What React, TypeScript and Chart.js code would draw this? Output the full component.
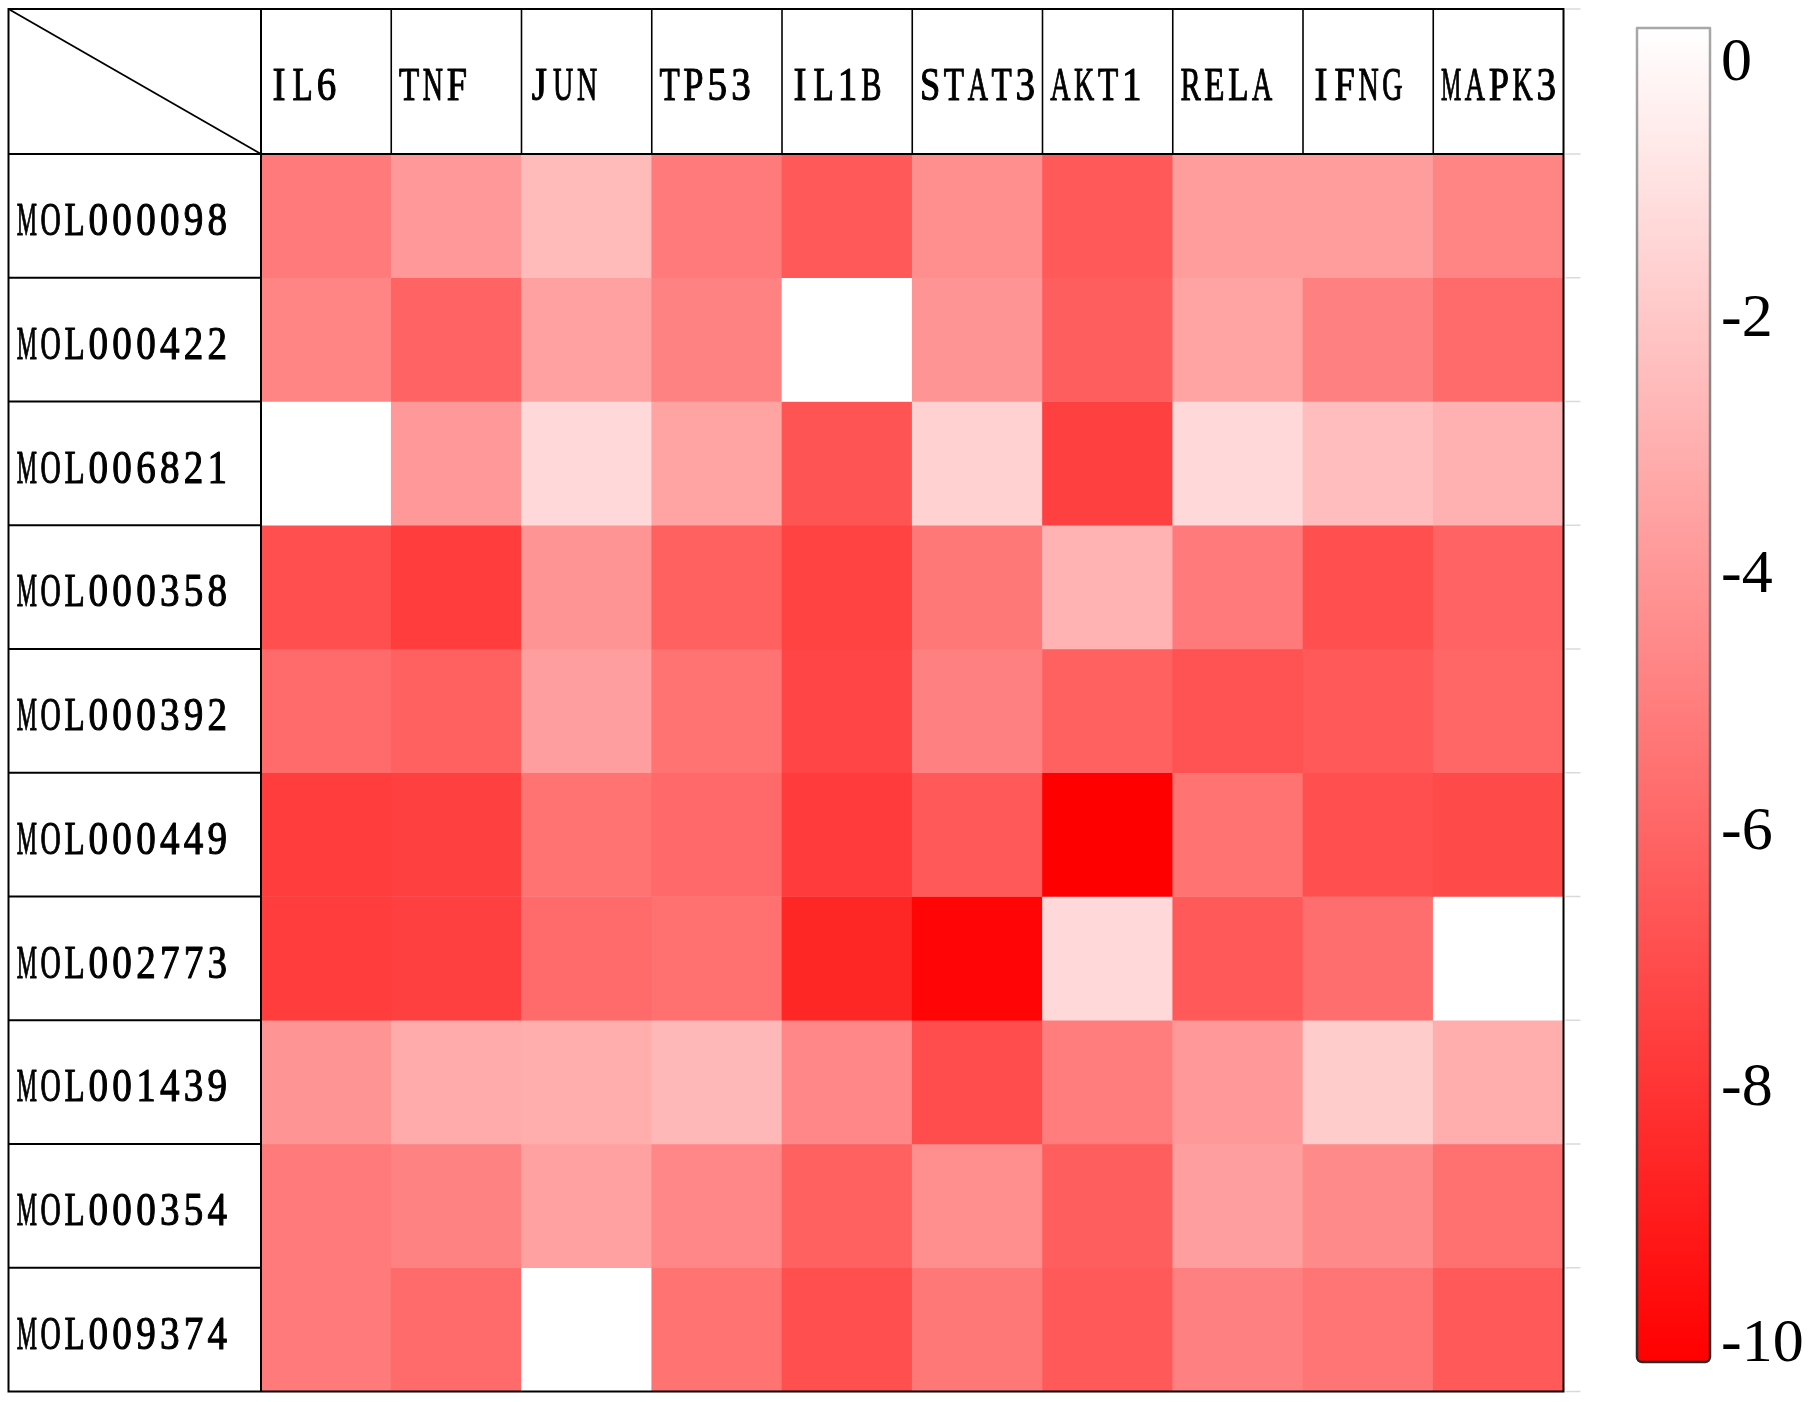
import { useEffect, useRef } from "react";
import { Chart, registerables } from "chart.js";

Chart.register(...registerables);

// ---------------- data ----------------
const genes = ["IL6", "TNF", "JUN", "TP53", "IL1B", "STAT3", "AKT1", "RELA", "IFNG", "MAPK3"];
const molecules = [
  "MOL000098", "MOL000422", "MOL006821", "MOL000358", "MOL000392",
  "MOL000449", "MOL002773", "MOL001439", "MOL000354", "MOL009374",
];

// docking scores per molecule (columns follow `genes`)
const mol000098 = [-5.2, -4.0, -2.7, -5.2, -6.5, -4.4, -6.5, -3.9, -3.9, -4.8];
const mol000422 = [-4.8, -6.1, -3.7, -4.9, 0, -4.2, -6.3, -3.6, -5.0, -5.8];
const mol006821 = [0, -4.0, -1.5, -3.6, -6.7, -1.8, -7.5, -1.5, -2.6, -3.1];
const mol000358 = [-6.9, -7.6, -4.2, -6.2, -7.4, -5.3, -3.0, -5.2, -6.9, -6.1];
const mol000392 = [-5.8, -6.2, -3.8, -5.5, -7.3, -5.0, -6.2, -6.8, -6.5, -6.0];
const mol000449 = [-7.6, -7.5, -5.5, -5.9, -7.7, -6.5, -10.0, -5.5, -6.9, -7.1];
const mol002773 = [-7.6, -7.5, -5.8, -5.6, -8.5, -9.8, -1.5, -6.5, -5.7, 0];
const mol001439 = [-4.2, -3.3, -3.2, -2.8, -4.7, -7.0, -5.1, -4.0, -2.0, -3.2];
const mol000354 = [-5.2, -4.9, -3.7, -4.7, -6.2, -4.4, -6.3, -3.8, -4.6, -5.6];
const mol009374 = [-5.2, -5.8, 0, -5.5, -6.9, -5.3, -6.5, -5.0, -5.4, -6.5];

const scoreRows = [
  mol000098, mol000422, mol006821, mol000358, mol000392,
  mol000449, mol002773, mol001439, mol000354, mol009374,
];

const colorbarTicks = [0, -2, -4, -6, -8, -10];
const colorMax = 0;
const colorMin = -10;

// ---------------- layout / style ----------------
const W = 1816;
const H = 1402;
const TABLE_LEFT = 8.5;
const TABLE_TOP = 9;
const HEAT_LEFT = 261;
const HEAT_TOP = 154;
const HEAT_RIGHT = 1563.5;
const HEAT_BOTTOM = 1391.5;
const LABEL_FONT = 46;
const LABEL_ADV = 23.8;
const CB_LEFT = 1637;
const CB_RIGHT = 1710;
const CB_TOP = 28;
const CB_BOTTOM = 1362;
const CB_LABEL_TOP = 59;
const CB_LABEL_BOTTOM = 1340;
const SERIF = '"Liberation Serif", "Times New Roman", serif';

function scoreColor(v: number): string {
  const t = Math.max(0, Math.min(1, (v - colorMax) / (colorMin - colorMax)));
  const g = Math.round(255 * (1 - t));
  return `rgb(255,${g},${g})`;
}

function drawMono(ctx: CanvasRenderingContext2D, text: string, x: number, baseline: number) {
  ctx.font = `${LABEL_FONT}px ${SERIF}`;
  ctx.textAlign = "center";
  ctx.textBaseline = "alphabetic";
  ctx.fillStyle = "#000";
  ctx.strokeStyle = "#000";
  ctx.lineWidth = 1.1;
  ctx.lineJoin = "round";
  for (let i = 0; i < text.length; i++) {
    const ch = text[i];
    const w = ctx.measureText(ch).width || 1;
    const sx = Math.min(0.85, (LABEL_FONT * 0.44) / w);
    ctx.save();
    ctx.translate(x + i * LABEL_ADV + LABEL_ADV / 2, baseline);
    ctx.scale(sx, 1);
    ctx.fillText(ch, 0, 0);
    ctx.strokeText(ch, 0, 0);
    ctx.restore();
  }
}

const tablePlugin = {
  id: "tableFrame",
  afterDraw(chart: any) {
    const { ctx, chartArea } = chart;
    const xs = chart.scales.x;
    const ys = chart.scales.y;
    const L = TABLE_LEFT;
    const T = TABLE_TOP;
    const R = chartArea.right;
    const B = chartArea.bottom;
    const colW = (xs.right - xs.left) / genes.length;
    const line = (x1: number, y1: number, x2: number, y2: number) => {
      ctx.beginPath();
      ctx.moveTo(x1, y1);
      ctx.lineTo(x2, y2);
      ctx.stroke();
    };
    ctx.save();

    // grey tick marks to the right of the table
    ctx.strokeStyle = "#dadada";
    ctx.lineWidth = 1.5;
    line(R + 2, T, R + 17, T);
    for (let i = 0; i <= molecules.length; i++) {
      const y = ys.getPixelForValue(i);
      line(R + 2, y, R + 17, y);
    }

    ctx.strokeStyle = "#000";
    // header column separators
    ctx.lineWidth = 1.6;
    for (let i = 1; i < genes.length; i++) {
      const x = xs.left + i * colW;
      line(x, T, x, chartArea.top);
    }
    // label column row separators
    ctx.lineWidth = 2;
    for (let i = 1; i < molecules.length; i++) {
      const y = ys.getPixelForValue(i);
      line(L, y, chartArea.left, y);
    }
    line(L, chartArea.top, R, chartArea.top);
    line(chartArea.left, T, chartArea.left, B);
    ctx.strokeRect(L, T, R - L, B - T);
    // corner diagonal
    ctx.lineWidth = 1.8;
    line(L, T, chartArea.left, chartArea.top);

    // header labels
    const headerBase = (T + chartArea.top) / 2 + 18.5;
    genes.forEach((g, i) => {
      drawMono(ctx, g, xs.left + i * colW + 6, headerBase);
    });
    // row labels
    molecules.forEach((m, i) => {
      const yc = ys.getPixelForValue(i + 0.5);
      drawMono(ctx, m, L + 6.5, yc + 19.3);
    });

    // colour bar
    const grad = ctx.createLinearGradient(0, CB_TOP, 0, CB_BOTTOM);
    grad.addColorStop(0, scoreColor(colorMax));
    grad.addColorStop(1, scoreColor(colorMin));
    ctx.fillStyle = grad;
    ctx.beginPath();
    ctx.roundRect(CB_LEFT, CB_TOP, CB_RIGHT - CB_LEFT, CB_BOTTOM - CB_TOP, [0, 0, 5, 5]);
    ctx.fill();
    const edge = ctx.createLinearGradient(0, CB_TOP, 0, CB_BOTTOM);
    edge.addColorStop(0, "#a8a8a8");
    edge.addColorStop(0.5, "#6a6a6a");
    edge.addColorStop(1, "#2a2a2a");
    ctx.strokeStyle = edge;
    ctx.lineWidth = 2.5;
    ctx.stroke();

    // colour bar tick labels
    ctx.font = `62px ${SERIF}`;
    ctx.fillStyle = "#000";
    ctx.textAlign = "left";
    ctx.textBaseline = "alphabetic";
    colorbarTicks.forEach((v) => {
      const t = (v - colorMax) / (colorMin - colorMax);
      const y = CB_LABEL_TOP + t * (CB_LABEL_BOTTOM - CB_LABEL_TOP);
      ctx.fillText(String(v), 1721, y + 21);
    });
    ctx.restore();
  },
};

export default function App() {
  const canvasRef = useRef<HTMLCanvasElement | null>(null);

  useEffect(() => {
    const canvas = canvasRef.current;
    if (!canvas) return;
    const datasets = molecules.map((m, r) => ({
      label: m,
      data: genes.map(() => 1),
      backgroundColor: scoreRows[r].map((v) => scoreColor(v)),
      borderWidth: 0,
      barPercentage: 1,
      categoryPercentage: 1,
      stack: "cells",
    }));
    const chart = new Chart(canvas, {
      type: "bar",
      data: { labels: genes, datasets },
      options: {
        responsive: false,
        devicePixelRatio: 1,
        animation: false,
        events: [],
        layout: {
          padding: {
            left: HEAT_LEFT,
            top: HEAT_TOP,
            right: W - HEAT_RIGHT,
            bottom: H - HEAT_BOTTOM,
          },
        },
        plugins: {
          legend: { display: false },
          tooltip: { enabled: false },
          title: { display: false },
        },
        scales: {
          x: { type: "category", display: false, stacked: true, offset: true, grid: { display: false } },
          y: { type: "linear", display: false, stacked: true, min: 0, max: molecules.length, reverse: true, grid: { display: false } },
        },
      },
      plugins: [tablePlugin],
    });
    return () => chart.destroy();
  }, []);

  return (
    <div style={{ position: "fixed", left: 0, top: 0, width: W, height: H, background: "#fff" }}>
      <canvas ref={canvasRef} width={W} height={H} style={{ display: "block" }} />
    </div>
  );
}
